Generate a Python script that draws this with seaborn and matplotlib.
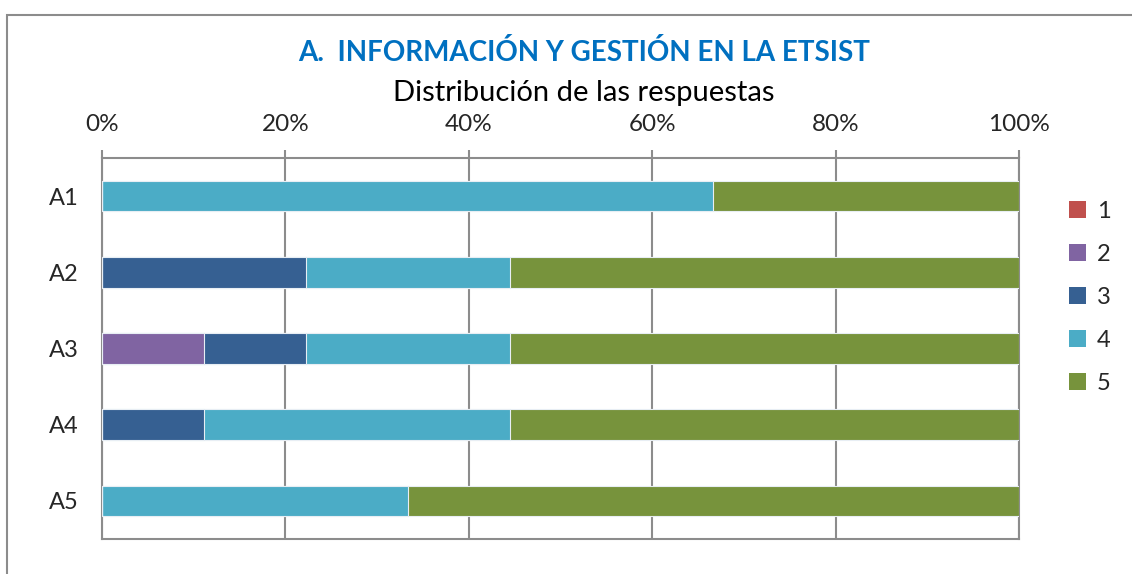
import numpy as np
import pandas as pd
import matplotlib
matplotlib.use("Agg")
import matplotlib.pyplot as plt
import seaborn as sns
from matplotlib.patches import Rectangle, Patch
from matplotlib.ticker import PercentFormatter

# data (respuestas de 9 encuestados)
preguntas = ["A1", "A2", "A3", "A4", "A5"]
niveles = ["1", "2", "3", "4", "5"]
r1 = [0, 0, 0, 0, 0]
r2 = [0, 0, 1, 0, 0]
r3 = [0, 2, 1, 1, 0]
r4 = [6, 2, 2, 3, 3]
r5 = [3, 5, 5, 5, 6]
colores = ["#C0504D", "#8064A2", "#366092", "#4BACC6", "#77933C"]

counts = pd.DataFrame({"1": r1, "2": r2, "3": r3, "4": r4, "5": r5}, index=preguntas)
pct = counts.div(counts.sum(axis=1), axis=0) * 100
cum = pct.cumsum(axis=1)

sns.set_style("white")
plt.rcParams["font.family"] = ["Lato", "DejaVu Sans"]

fig = plt.figure(figsize=(11.32, 5.74), dpi=100)
ax = fig.add_axes([0.0901, 0.061, 0.8101, 0.6637])

# stacked bars: draw cumulative totals from the last level down
for nivel, color in reversed(list(zip(niveles, colores))):
    d = pd.DataFrame({"pregunta": preguntas, "valor": cum[nivel].values})
    sns.barplot(data=d, x="valor", y="pregunta", orient="h", color=color,
                saturation=1, width=0.4, edgecolor="#e8eef4", linewidth=0.8,
                ax=ax, zorder=3)

ax.set_xlim(0, 100)
ax.set_ylim(4.5, -0.5)
ax.set_xlabel("")
ax.set_ylabel("")

ax.xaxis.tick_top()
ax.set_xticks(np.arange(0, 101, 20))
ax.xaxis.set_major_formatter(PercentFormatter(decimals=0))
ax.tick_params(axis="x", direction="out", length=6, width=1.5, color="#8c8c8c",
               labelsize=17.5, pad=10.5)
ax.grid(axis="x", color="#8c8c8c", linewidth=1.5, zorder=0)
ax.set_axisbelow(True)

ax.set_yticks(range(len(preguntas)))
ax.set_yticks(np.arange(-0.5, len(preguntas)), minor=True)
ax.tick_params(axis="y", which="major", length=0, labelsize=17, pad=17)
ax.tick_params(axis="y", which="minor", length=6, width=1.5, color="#8c8c8c")

for s in ax.spines.values():
    s.set_color("#8c8c8c")
    s.set_linewidth(1.5)

handles = [Patch(facecolor=c, edgecolor="none") for c in colores]
fig.legend(handles, niveles, loc="center left", bbox_to_anchor=(0.926, 0.482),
           frameon=False, fontsize=17, handlelength=0.7, handleheight=0.7,
           handletextpad=0.45, labelspacing=0.93)

fig.text(0.516, 0.908, "A.  INFORMACIÓN Y GESTIÓN EN LA ETSIST", ha="center",
         va="center", fontsize=20, fontweight="bold", color="#0070C0")
fig.text(0.516, 0.838, "Distribución de las respuestas", ha="center",
         va="center", fontsize=21, color="black")

fig.add_artist(Rectangle((7 / 1132, -0.05), 1.2, 1 - 15 / 574 + 0.05,
                         transform=fig.transFigure, fill=False,
                         edgecolor="#8c8c8c", linewidth=1.5))

fig.savefig("out.png", dpi=100)
